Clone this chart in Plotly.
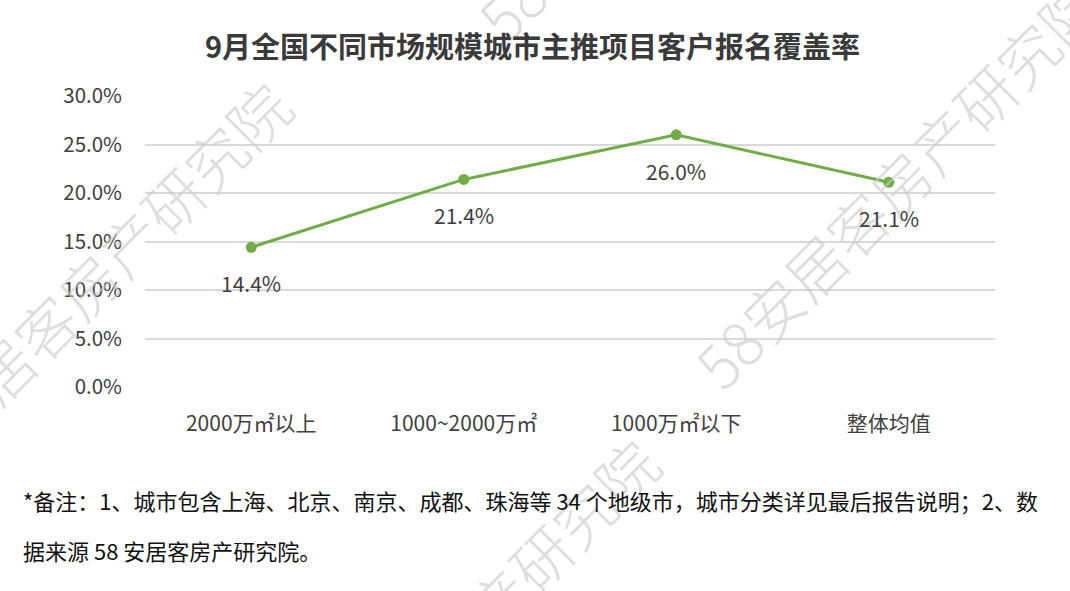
import plotly.graph_objects as go

categories = ["2000万㎡以上", "1000~2000万㎡", "1000万㎡以下", "整体均值"]
values = [0.144, 0.214, 0.260, 0.211]
y_ticks = [0, 0.05, 0.10, 0.15, 0.20, 0.25, 0.30]
title_text = "9月全国不同市场规模城市主推项目客户报名覆盖率"
note_line1 = "*备注：1、城市包含上海、北京、南京、成都、珠海等 34 个地级市，城市分类详见最后报告说明；2、数"
note_line2 = "据来源 58 安居客房产研究院。"
watermark = "58安居客房产研究院"

W, H = 1070, 591
L, R, T, B = 145, 75, 96, 204
PW, PH = W - L - R, H - T - B

def px(x):
    return (x - L) / PW

def py(y):
    return (H - B - y) / PH

FONT = "Noto Sans CJK SC"

fig = go.Figure()
fig.add_trace(go.Scatter(
    x=categories, y=values, mode="lines+markers",
    line=dict(color="#70ad47", width=3),
    marker=dict(color="#70ad47", size=11),
    hoverinfo="skip", showlegend=False,
))

annotations = []
# watermarks
for cx, cy in [(85, 285), (897, 182), (453, 642), (680, -165)]:
    annotations.append(dict(
        x=px(cx), y=py(cy), xref="paper", yref="paper", text=watermark,
        showarrow=False, textangle=-45, xanchor="center", yanchor="middle",
        font=dict(family=FONT, size=60, weight=300, color="rgba(200,200,200,0.6)"),
    ))

for c, v in zip(categories, values):
    annotations.append(dict(
        x=c, y=v, xref="x", yref="y", text=f"{v*100:.1f}%", showarrow=False,
        yshift=-36, font=dict(family=FONT, size=21, color="#404040"),
    ))

annotations.append(dict(
    x=px(532), y=py(45), xref="paper", yref="paper", text=f"<b>{title_text}</b>",
    showarrow=False, xanchor="center", yanchor="middle",
    font=dict(family=FONT, size=29, color="#3a3a3a"),
))
annotations.append(dict(
    x=px(21), y=py(500), xref="paper", yref="paper", text=note_line1,
    showarrow=False, xanchor="left", yanchor="middle",
    font=dict(family=FONT, size=22, color="#111111"),
))
annotations.append(dict(
    x=px(21), y=py(550), xref="paper", yref="paper", text=note_line2,
    showarrow=False, xanchor="left", yanchor="middle",
    font=dict(family=FONT, size=22, color="#111111"),
))

fig.update_layout(
    width=W, height=H,
    margin=dict(l=L, r=R, t=T, b=B, autoexpand=False),
    paper_bgcolor="white", plot_bgcolor="white",
    annotations=annotations,
    font=dict(family=FONT, color="#404040"),
    xaxis=dict(
        type="category", showgrid=False, showline=False, zeroline=False,
        ticks="", tickfont=dict(family=FONT, size=21, color="#404040"),
        range=[-0.5, 3.5], fixedrange=True, ticklabelstandoff=22,
    ),
    yaxis=dict(
        range=[0, 0.30], tickvals=y_ticks, tickformat=".1%",
        showgrid=True, gridcolor="#d9d9d9", gridwidth=1.5,
        zeroline=False, showline=False, ticks="",
        tickfont=dict(family=FONT, size=20.5, color="#404040"),
        ticklabelstandoff=22, fixedrange=True,
    ),
)

fig.write_html(
    "out.html",
    config={"displayModeBar": False},
    post_script="document.body.style.margin='0';document.body.style.overflow='hidden';",
)
